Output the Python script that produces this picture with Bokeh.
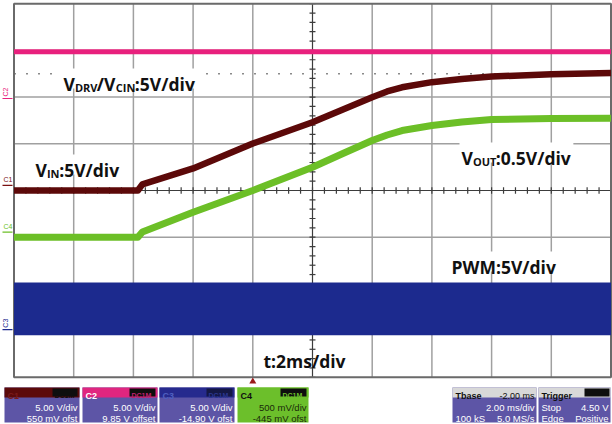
import numpy as np
from bokeh.plotting import figure
from bokeh.models import Range1d
from bokeh.core.properties import value
from bokeh.embed import file_html
from bokeh.resources import INLINE

# ---------------- data ----------------
time_ms = [-8.0, -3.85, -3.7, -2.0, 0.0, 2.0, 3.0, 4.0, 4.5, 5.0, 6.0, 7.0, 8.0, 10.0, 12.0]
vin_V = [-0.55, -0.55, 0.10, 1.81, 4.48, 6.76, 8.10, 9.44, 10.05, 10.50, 11.05, 11.39, 11.65, 11.90, 12.03]
vout_V = [-0.055, -0.055, 0.0, 0.213, 0.445, 0.694, 0.838, 0.980, 1.039, 1.087, 1.141, 1.178, 1.205, 1.216, 1.218]
vdrv_time_ms = [-8.0, 12.0]
vdrv_V = [5.0, 5.0]
pwm_time_ms = [-8.0, 12.0]
pwm_high_V = [4.95, 4.95]
pwm_low_V = [-0.50, -0.50]

channels = ["C1", "C2", "C3", "C4"]
volts_per_div = [5.0, 5.0, 5.0, 0.5]
offset_V = [0.55, 9.85, -14.90, -0.445]
ms_per_div = 2.0
t_left_ms = -8.0
trigger_ms = 0.0
cursor_div = 2.5

box_line1 = ["5.00 V/div", "5.00 V/div", "5.00 V/div", "500 mV/div"]
box_line2 = ["550 mV ofst", "9.85 V offset", "-14.90 V ofst", "-445 mV ofst"]

# ---------------- layout (pixels, measured from the top-left) ----------------
W, H = 612, 424
FL, FR, FT, FB = 13.5, 610.5, 3.2, 376.8
DX = (FR - FL) / 10.0
DY = (FB - FT) / 8.0
CY = (FT + FB) / 2.0
t_right_ms = t_left_ms + 10 * ms_per_div
t_center_ms = t_left_ms + 5 * ms_per_div


def Y(py):
    return H - py


p = figure(width=W, height=H, x_range=Range1d(0, W), y_range=Range1d(0, H),
           min_border=0, toolbar_location=None, output_backend="svg",
           x_axis_location=None, y_axis_location=None)
p.styles = {"position": "absolute", "left": "0px", "top": "0px"}
p.title.visible = False
p.grid.visible = False
p.outline_line_color = None
p.background_fill_color = "white"
p.border_fill_color = "white"

p.extra_x_ranges = {"t": Range1d(t_left_ms - FL / DX * ms_per_div,
                                 t_left_ms + (W - FL) / DX * ms_per_div)}
div_lo, div_hi = (CY - H) / DY, CY / DY
p.extra_y_ranges = {"div": Range1d(div_lo, div_hi)}
for ch, s, o in zip(channels, volts_per_div, offset_V):
    p.extra_y_ranges[ch] = Range1d(div_lo * s - o, div_hi * s - o)

# ---------------- graticule ----------------
grid_t = [t_left_ms + k * ms_per_div for k in range(1, 10) if k != 5]
p.segment(x0=grid_t, x1=grid_t, y0=[-4] * len(grid_t), y1=[4] * len(grid_t),
          x_range_name="t", y_range_name="div", line_color="#a0a0a0", line_width=1.5)
grid_d = [d for d in range(-3, 4) if d != 0]
p.segment(x0=[t_left_ms] * len(grid_d), x1=[t_right_ms] * len(grid_d), y0=grid_d, y1=grid_d,
          x_range_name="t", y_range_name="div", line_color="#a0a0a0", line_width=1.5)
# centre cross with minor ticks
p.segment(x0=[t_center_ms, t_left_ms], x1=[t_center_ms, t_right_ms], y0=[-4, 0], y1=[4, 0],
          x_range_name="t", y_range_name="div", line_color="#3c3c3c", line_width=1.2)
tk_t = np.arange(t_left_ms, t_right_ms + 1e-9, ms_per_div / 5)
p.segment(x0=tk_t, x1=tk_t, y0=-0.07, y1=0.07, x_range_name="t", y_range_name="div",
          line_color="#3c3c3c", line_width=1.2)
tk_d = np.arange(-4, 4 + 1e-9, 0.2)
p.segment(x0=t_center_ms - 0.1, x1=t_center_ms + 0.1, y0=tk_d, y1=tk_d, x_range_name="t",
          y_range_name="div", line_color="#3c3c3c", line_width=1.2)
# dotted cursor
p.line([t_left_ms, t_right_ms], [cursor_div, cursor_div], x_range_name="t", y_range_name="div",
       line_color="#8a8a8a", line_width=1.5, line_dash="2 10")
# frame
p.quad(left=[t_left_ms], right=[t_right_ms], bottom=[-4], top=[4], x_range_name="t",
       y_range_name="div", fill_color=None, line_color="#6a6a6a", line_width=2)

# ---------------- traces ----------------
p.varea(x=pwm_time_ms, y1=pwm_low_V, y2=pwm_high_V, x_range_name="t", y_range_name="C3",
        fill_color="#1c2a8e")
p.line(pwm_time_ms, pwm_high_V, x_range_name="t", y_range_name="C3", line_color="#1c2a8e", line_width=2)
p.line(pwm_time_ms, pwm_low_V, x_range_name="t", y_range_name="C3", line_color="#1c2a8e", line_width=2)
p.line(vdrv_time_ms, vdrv_V, x_range_name="t", y_range_name="C2", line_color="#e8207d", line_width=5)
p.line(time_ms, vin_V, x_range_name="t", y_range_name="C1", line_color="#5c0909", line_width=6.5,
       line_join="round")
p.line(time_ms, vout_V, x_range_name="t", y_range_name="C4", line_color="#6cbf27", line_width=7,
       line_join="round")

# channel ground markers on the left
mk_col = {"C1": "#7a1010", "C2": "#e8207d", "C3": "#1c2a8e", "C4": "#6cbf27"}
for ch in channels:
    p.segment(x0=[2], x1=[12], y0=[0], y1=[0], y_range_name=ch, line_color=mk_col[ch], line_width=1.2)
    rot = ch in ("C2", "C3")
    p.text(x=[8 if rot else 3], y=[0], text=[ch], y_range_name=ch, angle=np.pi / 2 if rot else 0,
           text_font=value("Liberation Sans"), text_font_size="7px", text_color=mk_col[ch],
           text_baseline="bottom", text_align="left", y_offset=-2)

# ---------------- annotations ----------------
WID = {"V": .650, "D": .700, "R": .640, "C": .610, "I": .340, "N": .780, "O": .780, "U": .740,
       "T": .570, "P": .640, "W": .960, "M": .920, ":": .290, "/": .440, "d": .640, "i": .300,
       "v": .560, ".": .290, "t": .420, "m": .960, "s": .490}


def tw(s, fs):
    return sum(WID.get(c, .572) for c in s) * fs


def rich(parts, x, base_py, size=17.5, sub=11.0, bg=True):
    total = sum(tw(t, sub if sb else size) for t, sb in parts)
    if bg:
        p.quad(left=[x - 2], right=[x + total + 2], top=[Y(base_py - 15)], bottom=[Y(base_py + 5)],
               fill_color="white", line_color=None)
    for t, sb in parts:
        fs = sub if sb else size
        p.text(x=[x], y=[Y(base_py + (4 if sb else 0))], text=[t], text_font=value("Open Sans"),
               text_font_style="bold", text_font_size=f"{fs}px", text_baseline="alphabetic",
               text_align="left", text_color="#111111")
        x += tw(t, fs)


rich([("V", False), ("DRV", True), ("/V", False), ("CIN", True), (":5V/div", False)], 63, 83)
rich([("V", False), ("IN", True), (":5V/div", False)], 35, 169)
rich([("V", False), ("OUT", True), (":0.5V/div", False)], 461, 157)
rich([("PWM:5V/div", False)], 451, 266)
rich([("t:2ms/div", False)], 263, 360, bg=False)

# trigger marker
p.scatter(x=[trigger_ms], y=[Y(381)], x_range_name="t", marker="triangle", size=7,
          fill_color="#9a1a1a", line_color=None)

# ---------------- bottom status bar ----------------
BODY = "#5d55a6"
HT, HB, BB = 387, 397, 422


def quad_px(x0, x1, y0, y1, color):
    p.quad(left=[x0], right=[x1], top=[Y(y0)], bottom=[Y(y1)], fill_color=color, line_color=None)


def txt(x, py, s, color="white", align="left", size="9px", style="normal"):
    p.text(x=[x], y=[Y(py)], text=[s], text_font=value("Liberation Sans"), text_font_size=size,
           text_color=color, text_align=align, text_baseline="alphabetic", text_font_style=style)


boxes = [(4, 79), (82, 157), (159, 234), (237, 308)]
head_col = ["#5c0a0a", "#e0267f", "#262a8e", "#6cbf2b"]
badge_col = ["#0e0e0e", "#0e0e0e", "#141845", "#0e0e0e"]
badge_txt = ["#0e0e0e", "#c0226e", "#2a3690", "#6cbf2b"]
title_col = ["#7a1a1a", "white", "#5060c0", "#111111"]
for i, (x0, x1) in enumerate(boxes):
    body = "#6cbf2b" if i == 3 else BODY
    quad_px(x0, x1, HT, BB, body)
    quad_px(x0, x1, HT, HB, head_col[i])
    bx0 = x0 + 48 if i == 0 else x1 - 28
    quad_px(bx0, x1 - 2, HT + 1, HB - 1, badge_col[i])
    txt(bx0 + 2, HB - 2.5, "DC1M", color=badge_txt[i], size="7px", style="bold")
    txt(x0 + 3, HB - 1.5, channels[i], color=title_col[i], size="9px", style="bold")
    tcol = "#1a2a0a" if i == 3 else "white"
    txt(x1 - 2, 407, box_line1[i], color=tcol, align="right", size="9.5px")
    txt(x1 - 2, 417.5, box_line2[i], color=tcol, align="right", size="9.5px")

# timebase box
quad_px(452, 536, HT, BB, BODY)
quad_px(452, 536, HT, HB, "#d8d8d8")
txt(455, HB - 1.5, "Tbase", color="#111111", style="bold")
txt(534, HB - 1.5, "-2.00 ms", color="#111111", align="right")
txt(534, 407, "2.00 ms/div", align="right", size="9.5px")
txt(455, 417.5, "100 kS", size="9.5px")
txt(534, 417.5, "5.0 MS/s", align="right", size="9.5px")

# trigger box
quad_px(538, 610, HT, BB, BODY)
quad_px(538, 610, HT, HB, "#d8d8d8")
quad_px(584, 609, HT + 1, HB - 1, "#0e0e0e")
txt(541, HB - 1.5, "Trigger", color="#111111", style="bold")
txt(541, 407, "Stop", size="9.5px")
txt(608, 407, "4.50 V", align="right", size="9.5px")
txt(541, 417.5, "Edge", size="9.5px")
txt(608, 417.5, "Positive", align="right", size="9.5px")

open("out.html", "w").write(file_html(p, INLINE))
